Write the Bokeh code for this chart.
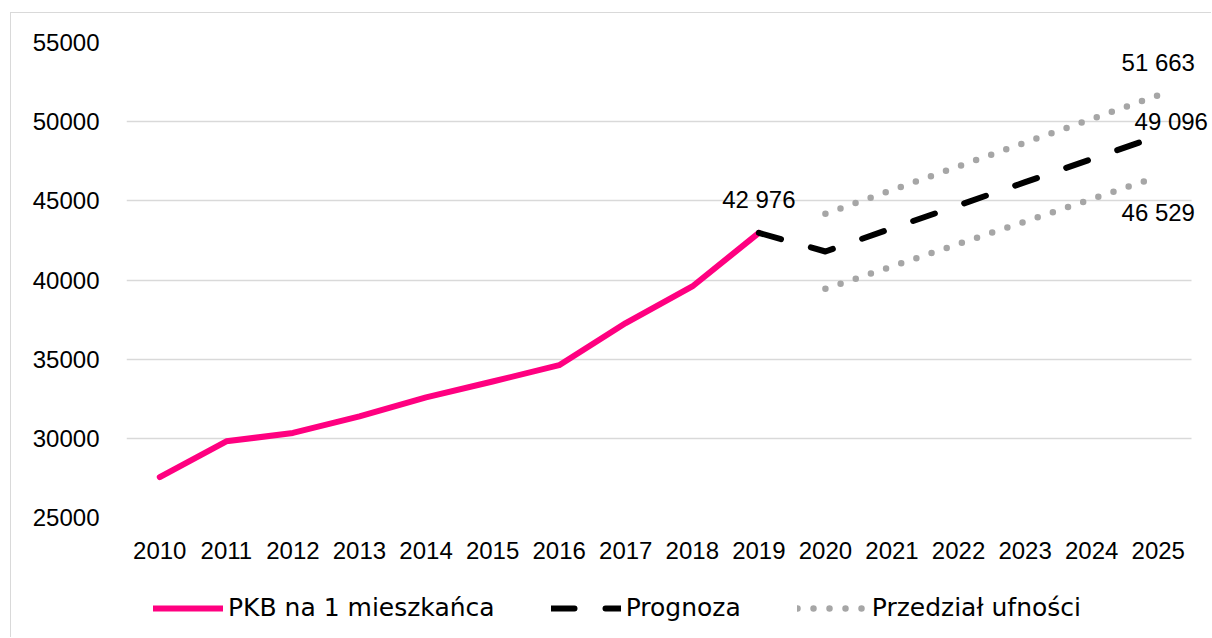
from bokeh.plotting import figure
from bokeh.layouts import column
from bokeh.models import Legend, LegendItem, FixedTicker, Range1d
from bokeh.core.properties import value
from bokeh.embed import file_html
from bokeh.resources import INLINE

# ---- data ----
years = [str(y) for y in range(2010, 2026)]
hist_years = years[:10]
gdp = [27550, 29810, 30340, 31390, 32590, 33590, 34620, 37280, 39590, 42976]
fc_years = years[9:]
forecast = [42976, 41800, 43260, 44720, 46180, 47640, 49096]
ci_years = years[10:]
upper = [44180, 45680, 47180, 48680, 50170, 51663]
lower = [39440, 40860, 42280, 43690, 45110, 46529]
y_ticks = [25000, 30000, 35000, 40000, 45000, 50000, 55000]
legend_labels = ["PKB na 1 mieszkańca", "Prognoza", "Przedział ufności"]


def fmt(v):
    return f"{v:,}".replace(",", " ")


def pos(labels):
    return [years.index(y) for y in labels]


hist_x, fc_x, ci_x = pos(hist_years), pos(fc_years), pos(ci_years)

NUM_FONT = "Liberation Sans"
LEG_FONT = "DejaVu Sans"
PINK = "#FF0080"
GRAY = "#A6A6A6"

hist_style = dict(line_color=PINK, line_width=6, line_cap="round", line_join="round")
fc_style = dict(line_color="#000000", line_width=6, line_dash="23 31",
                line_cap="round", line_join="round")
ci_style = dict(line_color=GRAY, line_width=6.5, line_dash="0 16", line_cap="round")

# ---- main chart ----
p = figure(
    y_range=(25000, 55000),
    width=1200, height=564,
    output_backend="svg", toolbar_location=None,
    min_border_left=115, min_border_right=0,
    min_border_top=29, min_border_bottom=60,
)
grid = p.ygrid[0]
has_cross = "cross_bounds" in grid.properties()
lo, hi = -0.5, len(years) - 0.5
if has_cross:
    grid.cross_bounds = (lo, hi)
    p.x_range = Range1d(lo, hi + 0.3)
else:
    p.x_range = Range1d(lo, hi)
    p.min_border_right = 20

p.outline_line_color = None
p.background_fill_color = "white"
p.border_fill_color = "white"

p.xgrid.grid_line_color = None
p.ygrid.grid_line_color = "#D9D9D9"
p.ygrid.grid_line_width = 1.3
p.yaxis.ticker = FixedTicker(ticks=y_ticks)
p.xaxis.ticker = FixedTicker(ticks=list(range(len(years))))
p.xaxis.major_label_overrides = {i: y for i, y in enumerate(years)}

for ax in (p.xaxis, p.yaxis):
    ax.axis_line_color = None
    ax.major_tick_line_color = None
    ax.minor_tick_line_color = None
    ax.major_tick_out = 0
    ax.major_tick_in = 0
    ax.minor_tick_out = 0
    ax.minor_tick_in = 0
    ax.major_label_text_font = NUM_FONT
    ax.major_label_text_font_size = "24px"
    ax.major_label_text_color = "#000000"
p.yaxis.major_label_standoff = 27
p.xaxis.major_label_standoff = 24

p.line(hist_x, gdp, **hist_style)
p.line(fc_x, forecast, **fc_style)
p.line(ci_x, upper, **ci_style)
p.line(ci_x, lower, **ci_style)

common = dict(text_font=value(NUM_FONT), text_font_size="24px",
              text_color="#000000", text_align="center", text_baseline="middle")
p.text(x=[hist_x[-1]], y=[gdp[-1]], text=[fmt(gdp[-1])], y_offset=-33, **common)
p.text(x=[ci_x[-1]], y=[upper[-1]], text=[fmt(upper[-1])], y_offset=-33, **common)
p.text(x=[fc_x[-1]], y=[forecast[-1]], text=[fmt(forecast[-1])],
       x_offset=13 if has_cross else -4, y_offset=-14, **common)
p.text(x=[ci_x[-1]], y=[lower[-1]], text=[fmt(lower[-1])], y_offset=36, **common)

# ---- legend strip (its series lie outside its view; only the legend shows) ----
q = figure(
    width=1200, height=60, x_range=p.x_range, y_range=Range1d(0, 1),
    x_axis_type=None, y_axis_type=None,
    output_backend="svg", toolbar_location=None,
    min_border=0,
)
q.outline_line_color = None
q.grid.visible = False
q.background_fill_color = "white"
q.border_fill_color = "white"
lr1 = q.line(hist_x, gdp, **hist_style)
lr2 = q.line(fc_x, forecast, **fc_style)
lr3 = q.line(ci_x, upper, **ci_style)

legend = Legend(
    items=[LegendItem(label=legend_labels[0], renderers=[lr1]),
           LegendItem(label=legend_labels[1], renderers=[lr2]),
           LegendItem(label=legend_labels[2], renderers=[lr3])],
    orientation="horizontal", location=(27, 15),
    glyph_width=70, glyph_height=20, label_standoff=5, spacing=56,
    padding=0, margin=0, border_line_color=None, background_fill_alpha=0,
    label_text_font=LEG_FONT, label_text_font_size="25px", label_text_color="#000000",
    label_height=20,
)
q.add_layout(legend, "center")

layout = column(p, q, spacing=0,
                styles={"margin-left": "10px", "margin-top": "12px",
                        "border-left": "1px solid #D9D9D9",
                        "border-top": "1px solid #D9D9D9"})

open("out.html", "w").write(file_html(layout, INLINE))
